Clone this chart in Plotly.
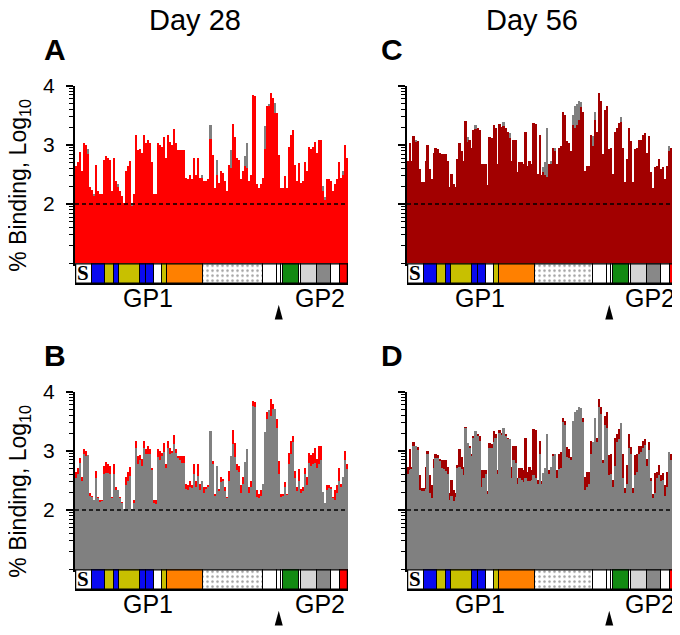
import plotly.graph_objects as go

# ---------------- data ----------------
peptides = list(range(1, 137))

red28 = [2.64,2.72,2.88,2.56,3.04,3.01,2.85,2.29,2.25,2.14,
         2.67,2.23,2.17,2.17,2.75,2.81,2.79,2.75,2.23,2.78,
         2.39,2.30,2.23,2.14,2.03,2.56,2.64,2.73,1.98,2.17,
         3.17,2.92,2.94,2.86,3.17,3.03,3.08,3.03,2.72,2.17,
         2.17,3.03,3.00,2.97,3.14,2.78,3.17,3.06,3.00,3.28,
         3.03,2.92,2.92,2.92,2.92,2.45,2.42,2.50,2.42,2.79,
         2.50,2.78,2.45,2.45,2.39,2.39,2.42,3.11,2.83,2.28,
         2.50,2.36,2.56,2.53,2.39,2.23,2.67,2.61,3.36,3.14,
         2.78,2.75,2.42,2.56,2.64,2.61,2.39,2.50,3.84,3.83,
         2.34,2.28,2.34,2.45,2.94,3.66,3.66,3.88,3.80,3.55,
         3.55,2.83,2.28,2.28,2.48,2.28,2.97,3.17,3.25,2.67,
         2.39,2.70,2.36,2.39,2.72,2.56,2.97,2.94,2.97,3.06,
         2.86,3.08,3.08,2.22,2.08,2.42,2.42,2.39,2.23,2.34,
         2.42,2.72,2.45,2.50,3.00,2.78]

gray28 = [2.55,2.62,2.80,2.50,2.95,2.92,2.94,2.25,2.22,2.18,
          2.55,2.20,2.14,2.15,2.62,2.63,2.63,2.62,2.20,2.62,
          2.35,2.34,2.20,2.12,2.02,2.42,2.50,2.58,2.03,2.12,
          3.05,2.78,2.85,2.75,3.05,2.95,2.96,2.96,2.68,2.12,
          2.10,2.90,2.85,2.92,2.98,2.72,3.05,2.95,2.97,3.12,
          2.97,2.88,2.85,2.80,2.80,2.36,2.35,2.40,2.38,2.62,
          2.40,2.58,2.35,2.50,2.30,2.36,2.40,3.34,2.78,2.25,
          2.75,2.33,2.48,2.50,2.33,2.20,2.50,2.92,3.12,2.90,
          2.68,2.65,2.30,2.45,2.81,3.03,2.30,2.40,3.77,3.74,
          2.22,2.20,2.25,2.45,3.33,3.55,3.70,3.60,3.72,3.72,
          3.40,2.62,2.22,2.25,2.40,2.26,2.78,2.95,3.15,2.55,
          2.32,2.50,2.30,2.33,2.62,2.42,2.80,2.75,2.78,2.80,
          2.72,2.78,2.85,2.31,2.12,2.35,2.38,2.36,2.20,2.18,
          2.30,2.50,2.40,2.56,2.85,2.70]

dr56 = [2.74,3.04,2.74,3.15,3.05,3.07,2.60,2.38,2.38,2.74,
        3.01,2.60,2.43,2.87,2.96,2.93,2.87,2.85,2.85,2.85,
        2.74,2.30,2.52,2.35,2.30,2.76,3.04,2.90,2.74,3.41,
        3.05,3.09,2.96,3.26,3.28,3.29,3.26,2.68,2.68,2.68,
        2.32,3.13,3.12,3.34,3.29,2.68,3.35,3.31,3.32,3.29,
        3.23,3.12,2.74,3.09,3.09,2.54,2.71,2.71,2.68,3.23,
        2.65,2.74,2.68,3.37,3.35,2.52,3.18,2.49,2.54,2.49,
        2.46,2.68,2.68,2.96,2.90,2.68,2.96,2.98,3.56,3.51,
        3.07,3.04,2.90,3.34,3.29,3.34,3.42,3.64,3.56,2.57,
        2.65,2.65,3.18,2.98,3.42,3.23,3.89,3.75,2.85,3.59,
        3.67,2.93,2.96,2.52,3.23,3.29,3.37,3.40,2.96,2.38,
        2.76,3.29,3.07,2.38,2.93,2.96,3.09,3.09,3.18,3.20,
        2.87,3.15,2.54,2.27,2.63,2.65,2.76,2.60,2.63,2.43,
        2.65,2.90,2.96,3.15,3.07,3.01]

gray56 = [2.62,2.68,2.70,3.08,3.09,3.02,2.35,2.33,2.32,2.36,
          2.95,2.30,2.20,2.72,2.88,2.88,2.83,2.72,2.70,2.66,
          2.62,2.18,2.25,2.15,2.22,2.72,2.74,2.70,2.60,3.40,
          3.13,3.05,2.92,3.22,3.34,3.25,3.18,2.40,2.55,2.62,
          2.28,3.05,3.06,3.15,3.22,2.62,3.30,3.28,3.40,3.25,
          3.20,3.20,2.55,2.85,2.80,2.45,2.55,2.52,2.48,2.55,
          2.50,2.50,2.52,2.60,2.55,2.45,2.95,2.45,2.63,2.71,
          3.29,2.62,2.74,2.92,2.96,2.55,2.70,2.72,3.50,3.45,
          2.90,2.88,2.85,3.51,3.67,3.70,3.75,3.73,3.50,2.35,
          2.40,2.45,2.95,3.15,3.56,3.15,3.75,3.62,2.80,3.45,
          3.40,2.60,2.62,2.40,2.75,3.15,3.20,3.48,2.55,2.30,
          2.45,3.05,2.95,2.30,2.60,2.65,2.95,2.98,3.05,3.10,
          2.75,3.02,2.50,2.20,2.30,2.55,2.60,2.50,2.52,2.25,
          2.40,2.98,2.85,3.00,3.02,2.95]

threshold = 2
y_range = [1, 4]
major_ticks = [2, 3, 4]
major_labels = ["2", "3", "4"]
minor_ticks = [1.0, 1.301, 1.477, 1.602, 1.699, 1.778, 1.845, 1.903, 1.954,
               2.301, 2.477, 2.602, 2.699, 2.778, 2.845, 2.903, 2.954,
               3.301, 3.477, 3.602, 3.699, 3.778, 3.845, 3.903, 3.954]

# GP domain map (peptide index units)
dom_start = [0.5, 9.0, 15.5, 20.0, 22.5, 33.0, 36.0, 40.0, 44.0, 46.5,
             64.5, 94.0, 101.0, 103.0, 104.0, 112.0, 113.0, 121.0, 128.0, 132.5]
dom_end = [9.0, 15.5, 20.0, 22.5, 33.0, 36.0, 40.0, 44.0, 46.5, 64.5,
           94.0, 101.0, 103.0, 104.0, 112.0, 113.0, 121.0, 128.0, 132.5, 136.5]
dom_color = ["#FFFFFF", "#0A0AF0", "#C8C000", "#0A0AF0", "#C8C000", "#0A0AF0",
             "#0A0AF0", "#FFFFFF", "#C8C000", "#FF8000", "#FFFFFF", "#FFFFFF",
             "#FFFFFF", "#FFFFFF", "#128A12", "#FFFFFF", "#D4D4D4", "#888888",
             "#FFFFFF", "#FF0000"]
dom_pattern = ["", "", "", "", "", "", "", "", "", "", ".", "", "", "", "",
               "", "", "", "", ""]
signal_label = "S"
signal_pos = 4.7
gp_labels = ["GP1", "GP2"]
gp_pos = [37.0, 122.5]
cleavage_site = 102.0

RED = "#FF0000"
DARKRED = "#A20000"
GRAY = "#808080"
FONT = "Liberation Sans, Arial, sans-serif"

# page offset of the figure inside the browser window
OX, OY = 8, 16
W, H = 680 - OX, 635 - OY


def px(x):
    return min(1.0, max(0.0, (x - OX) / W))


def py(y):
    return min(1.0, max(0.0, 1 - (y - OY) / H))


def ax_id(n):
    return "" if n == 1 else str(n)


panels = [
    dict(letter="A", left=75, right=348, top=83, bottom=264,
         back=(gray28, GRAY), front=(red28, RED), labels=True),
    dict(letter="C", left=407, right=678, top=83, bottom=264,
         back=(gray56, GRAY), front=(dr56, DARKRED), labels=False),
    dict(letter="B", left=75, right=348, top=395, bottom=576,
         back=(red28, RED), front=(gray28, GRAY), labels=True),
    dict(letter="D", left=407, right=678, top=395, bottom=576,
         back=(dr56, DARKRED), front=(gray56, GRAY), labels=False),
]

strip_h = 59
strip_unit = 21
strip_range = [1 - strip_h / strip_unit, 1]

fig = go.Figure()
layout = dict(width=W, height=H, margin=dict(l=0, r=0, t=0, b=0),
              paper_bgcolor="white", plot_bgcolor="white",
              barmode="overlay", bargap=0, showlegend=False,
              font=dict(family=FONT, color="black"))
shapes = []
annotations = []

for i, p in enumerate(panels):
    k = ax_id(i + 1)          # main axis
    s = ax_id(i + 5)          # strip axis
    xa, ya = f"x{k}", f"y{k}"
    xs, ys = f"x{s}", f"y{s}"
    for vals, col in (p["back"], p["front"]):
        fig.add_trace(go.Bar(x=peptides, y=vals, width=1, marker_color=col,
                             marker_line_width=0, xaxis=xa, yaxis=ya))
    # domain strip
    fig.add_trace(go.Bar(
        y=[0.5] * len(dom_start), x=[e - b for b, e in zip(dom_start, dom_end)],
        base=dom_start, orientation="h", width=1,
        marker=dict(color=dom_color, line=dict(color="black", width=1),
                    pattern=dict(shape=dom_pattern, fgcolor="#B0B0B0",
                                 bgcolor="white", size=5, solidity=0.2)),
        xaxis=xs, yaxis=ys))

    xdom = [px(p["left"]), px(p["right"])]
    layout[f"xaxis{k}"] = dict(domain=xdom, range=[0.5, 136.5], anchor=ya,
                               showline=True, linewidth=2.5, linecolor="black",
                               showticklabels=False, ticks="", showgrid=False,
                               zeroline=False)
    layout[f"yaxis{k}"] = dict(domain=[py(p["bottom"]), py(p["top"])],
                               range=y_range, anchor=xa, showline=True,
                               linewidth=2, linecolor="black",
                               tickvals=major_ticks,
                               ticktext=major_labels,
                               showticklabels=p["labels"],
                               ticks="outside", ticklen=7, tickwidth=1.5,
                               tickcolor="black", showgrid=False, zeroline=False,
                               ticklabelstandoff=7,
                               tickfont=dict(size=21, family=FONT),
                               minor=dict(tickvals=minor_ticks, ticks="outside",
                                          ticklen=4, tickwidth=1,
                                          tickcolor="black", showgrid=False))
    layout[f"xaxis{s}"] = dict(domain=xdom, range=[0.5, 136.5], anchor=ys,
                               visible=False, showgrid=False)
    layout[f"yaxis{s}"] = dict(domain=[py(p["bottom"] + strip_h),
                                       py(p["bottom"])],
                               range=strip_range, anchor=xs, visible=False,
                               showgrid=False)

    # threshold line
    shapes.append(dict(type="line", xref=f"{xa} domain", yref=ya, x0=0, x1=1,
                       y0=threshold, y1=threshold,
                       line=dict(color="black", width=1.4, dash="4px,3px")))
    # strip outline
    shapes.append(dict(type="rect", xref=xs, yref=ys, x0=0.5, x1=136.5,
                       y0=0, y1=1, line=dict(color="black", width=2.5)))
    # cleavage arrow
    shapes.append(dict(type="path", xref=xs, yref=ys,
                       path=f"M {cleavage_site - 2},-1.74 L {cleavage_site},-1.02 "
                            f"L {cleavage_site + 2},-1.74 Z",
                       fillcolor="black", line=dict(color="black", width=0)))
    annotations.append(dict(x=signal_pos, y=0.5, xref=xs, yref=ys,
                            xanchor="center", yanchor="middle",
                            text=f"<b>{signal_label}</b>", showarrow=False,
                            font=dict(size=21, family="Liberation Serif, serif")))
    for lab, pos in zip(gp_labels, gp_pos):
        annotations.append(dict(x=pos, y=-0.68, xref=xs, yref=ys, text=lab,
                                xanchor="center", yanchor="middle",
                                showarrow=False, font=dict(size=25, family=FONT)))
    # panel letter
    lx = 55 if p["labels"] else 392
    annotations.append(dict(x=px(lx), y=py(p["top"] - 37), xref="paper",
                            yref="paper", text=f"<b>{p['letter']}</b>",
                            xanchor="center", yanchor="middle",
                            showarrow=False, font=dict(size=30, family=FONT)))
    if p["labels"]:
        annotations.append(dict(x=px(20), y=py(p["top"] + 102), xref="paper",
                                yref="paper", text="% Binding, Log<sub>10</sub>",
                                xanchor="center", yanchor="middle",
                                textangle=-90, showarrow=False,
                                font=dict(size=23, family=FONT)))

annotations.append(dict(x=px(195), y=py(10), xref="paper", yref="paper",
                        text="Day 28", showarrow=False,
                        xanchor="center", yanchor="middle",
                        font=dict(size=29, family=FONT)))
annotations.append(dict(x=px(532), y=py(10), xref="paper", yref="paper",
                        text="Day 56", showarrow=False,
                        xanchor="center", yanchor="middle",
                        font=dict(size=29, family=FONT)))

layout["shapes"] = shapes
layout["annotations"] = annotations
fig.update_layout(**layout)
fig.write_html("out.html")
